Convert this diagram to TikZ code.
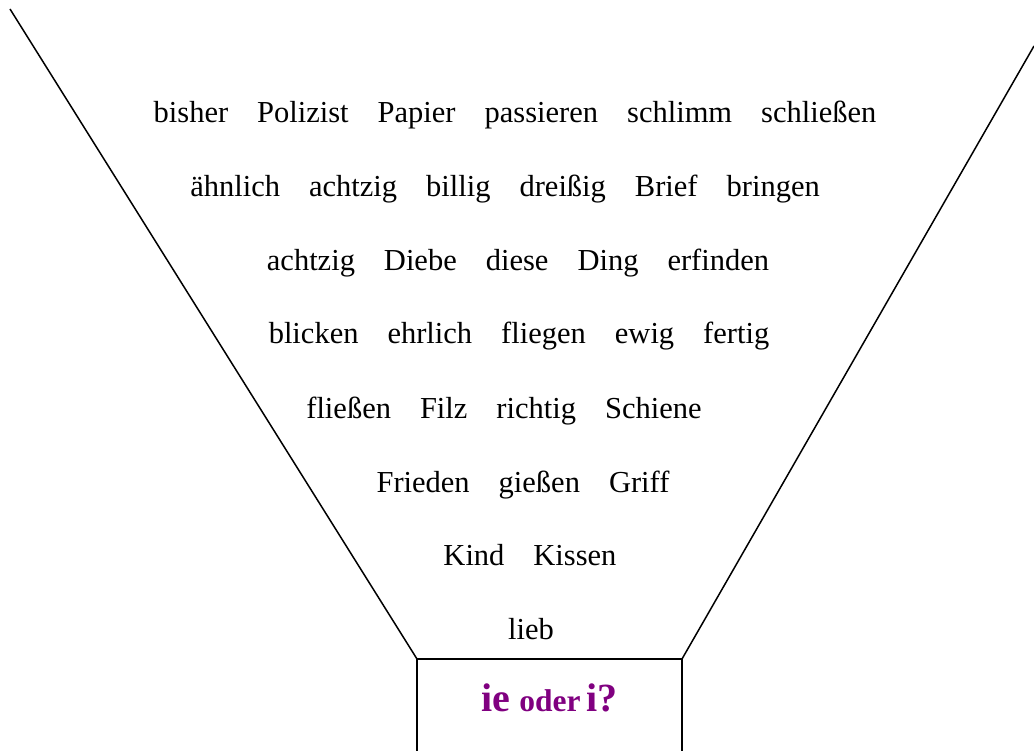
\documentclass[tikz,border=0pt]{standalone}
\usepackage{fontspec}
\setmainfont{Liberation Serif}
\definecolor{ttlpurple}{RGB}{128,0,128}
\newcommand\wgap{\hspace{29pt}}
\begin{document}
\begin{tikzpicture}[x=1pt,y=-1pt,
  wordline/.style={anchor=base,inner sep=0pt,font=\fontsize{30.5}{36}\selectfont},
  funnel/.style={line width=1.5pt,black},
  boxline/.style={line width=1.8pt,black}]
\useasboundingbox (0,0) rectangle (1034,751);
\coordinate (ltop) at (10,9);
\coordinate (rtop) at (1034,46);
\coordinate (bl) at (417,659);
\coordinate (br) at (682,659);
\coordinate (bbl) at (417,752);
\coordinate (bbr) at (682,752);
\draw[funnel] (ltop) -- (bl);
\draw[funnel] (rtop) -- (br);
\draw[boxline] (bbl) -- (bl) -- (br) -- (bbr);
\node[wordline] (w1) at (515,123) {bisher\wgap Polizist\wgap Papier\wgap passieren\wgap schlimm\wgap schließen};
\node[wordline] (w2) at (505,197) {ähnlich\wgap achtzig\wgap billig\wgap dreißig\wgap Brief\wgap bringen};
\node[wordline] (w3) at (518,271) {achtzig\wgap Diebe\wgap diese\wgap Ding\wgap erfinden};
\node[wordline] (w4) at (519,344) {blicken\wgap ehrlich\wgap fliegen\wgap ewig\wgap fertig};
\node[wordline] (w5) at (504,418) {fließen\wgap Filz\wgap richtig\wgap Schiene};
\node[wordline] (w6) at (523,492) {Frieden\wgap gießen\wgap Griff};
\node[wordline] (w7) at (530,565) {Kind\wgap Kissen};
\node[wordline] (w8) at (531,639) {lieb};
\node[anchor=base,inner sep=0pt,text=ttlpurple,font=\bfseries] (title) at (549.5,711)
  {\fontsize{40}{44}\selectfont ie\hspace{9pt}\fontsize{31.5}{36}\selectfont oder\hspace{6pt}\fontsize{40}{44}\selectfont i?};
\end{tikzpicture}
\end{document}
